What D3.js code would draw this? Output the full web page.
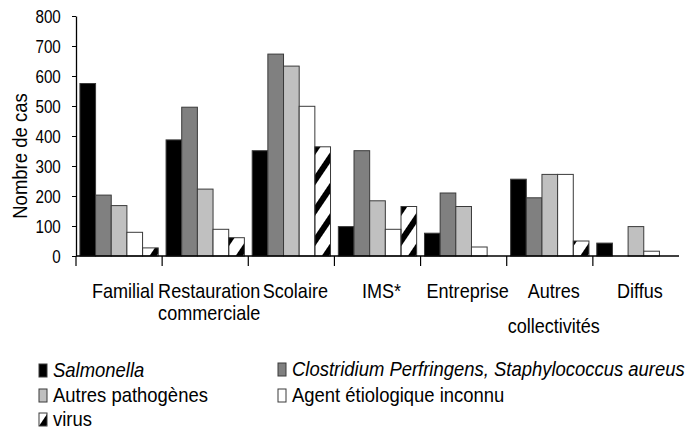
<!DOCTYPE html>
<html>
<head>
<meta charset="utf-8">
<script src="https://cdn.jsdelivr.net/npm/d3@7"></script>
<style>
  body { margin: 0; background: #fff; }
  svg { display: block; font-family: "Liberation Sans", Arial, sans-serif; }
</style>
</head>
<body>
<div id="chart"></div>
<script>
// categories (second line of the label after "\n")
const categories = ["Familial", "Restauration\ncommerciale", "Scolaire", "IMS*", "Entreprise", "Autres\ncollectivités", "Diffus"];
const series = ["Salmonella", "Clostridium Perfringens, Staphylococcus aureus", "Autres pathogènes", "Agent étiologique inconnu", "virus"];

// one array per series, in category order
const salmonella = [575, 387, 351, 98, 76, 256, 43];
const clostridium = [203, 496, 673, 351, 210, 194, 0];
const autresPathogenes = [168, 223, 633, 184, 165, 272, 98];
const agentInconnu = [79, 89, 499, 89, 30, 272, 16];
const virus = [27, 61, 364, 165, 0, 50, 0];

const yTicks = [0, 100, 200, 300, 400, 500, 600, 700, 800];

const values = [salmonella, clostridium, autresPathogenes, agentInconnu, virus];
const fills = ["#000000", "#808080", "#c0c0c0", "#ffffff", "url(#virus)"];

const width = 687, height = 430;
const margin = {top: 16, right: 8, bottom: 174, left: 76};
const squeeze = 0.88; // the original type is a condensed face

const svg = d3.select("#chart").append("svg")
    .attr("width", width)
    .attr("height", height);

// diagonal black stripes for the virus series
svg.append("defs").append("pattern")
    .attr("id", "virus")
    .attr("patternUnits", "userSpaceOnUse")
    .attr("width", 17)
    .attr("height", 10)
    .attr("patternTransform", "rotate(34)")
  .append("rect")
    .attr("width", 6)
    .attr("height", 10)
    .attr("fill", "#000");

const x = d3.scaleBand()
    .domain(categories)
    .range([margin.left, width - margin.right]);

const xs = d3.scaleBand()
    .domain(series)
    .range([0, x.bandwidth()])
    .paddingOuter(0.25);

const y = d3.scaleLinear()
    .domain([0, 800])
    .range([height - margin.bottom, margin.top]);

// bars
const groups = svg.append("g")
  .selectAll("g")
  .data(categories)
  .join("g")
    .attr("transform", d => `translate(${x(d)},0)`);

groups.selectAll("rect")
  .data((c, i) => series.map((s, j) => ({s, j, v: values[j][i]})).filter(d => d.v > 0))
  .join("rect")
    .attr("x", d => xs(d.s))
    .attr("y", d => y(d.v))
    .attr("width", xs.bandwidth())
    .attr("height", d => y(0) - y(d.v))
    .attr("fill", d => fills[d.j])
    .attr("stroke", "#3a3a3a")
    .attr("stroke-width", 1);

// y axis
const yAxis = svg.append("g")
    .attr("transform", `translate(${margin.left},0)`)
    .call(d3.axisLeft(y).tickValues(yTicks).tickSize(4).tickPadding(15).tickSizeOuter(0));
yAxis.select(".domain").attr("stroke", "#000").attr("stroke-width", 1.3);
yAxis.selectAll(".tick line").attr("stroke", "#000");
yAxis.selectAll(".tick text")
    .attr("fill", "#000")
    .attr("transform", "scale(0.8,1)")
    .style("font-size", "19px");

// x axis: baseline and ticks at the start of each category
const base = y(0);
svg.append("line")
    .attr("x1", margin.left).attr("x2", width - margin.right)
    .attr("y1", base).attr("y2", base)
    .attr("stroke", "#000").attr("stroke-width", 1.6);

svg.append("g")
  .selectAll("line")
  .data(categories)
  .join("line")
    .attr("x1", d => x(d)).attr("x2", d => x(d))
    .attr("y1", base).attr("y2", base + 10)
    .attr("stroke", "#000")
    .attr("stroke-width", 1.2);

// category labels
const lineGap = {"Restauration\ncommerciale": 22, "Autres\ncollectivités": 35};
svg.append("g")
  .selectAll("text")
  .data(categories)
  .join("text")
    .attr("transform", d => `translate(${x(d) + x.bandwidth() / 2 + 4},298) scale(${squeeze},1)`)
    .attr("text-anchor", "middle")
    .style("font-size", "20.5px")
    .each(function(d) {
      d3.select(this).selectAll("tspan")
        .data(d.split("\n"))
        .join("tspan")
          .attr("x", 0)
          .attr("dy", (l, i) => i === 0 ? 0 : lineGap[d])
          .text(l => l);
    });

// y title
svg.append("text")
    .attr("transform", `translate(27,${(margin.top + base) / 2 + 20}) rotate(-90) scale(0.95,1)`)
    .attr("text-anchor", "middle")
    .style("font-size", "19.5px")
    .text("Nombre de cas");

// legend
const legendPos = [
  {x: 39, y: 377, italic: true},
  {x: 278, y: 376, italic: true},
  {x: 39, y: 402, italic: false},
  {x: 278, y: 402, italic: false},
  {x: 39, y: 426, italic: false}
];
const legend = svg.append("g")
  .selectAll("g")
  .data(series)
  .join("g")
    .attr("transform", (d, i) => `translate(${legendPos[i].x},${legendPos[i].y})`);

legend.append("rect")
    .attr("x", 0).attr("y", -13)
    .attr("width", 8).attr("height", 13)
    .attr("fill", (d, i) => fills[i])
    .attr("stroke", "#3a3a3a")
    .attr("stroke-width", 1);

legend.append("text")
    .attr("transform", "translate(14,0) scale(0.9,1)")
    .style("font-size", "20.5px")
    .style("font-style", (d, i) => legendPos[i].italic ? "italic" : "normal")
    .text(d => d);
</script>
</body>
</html>
